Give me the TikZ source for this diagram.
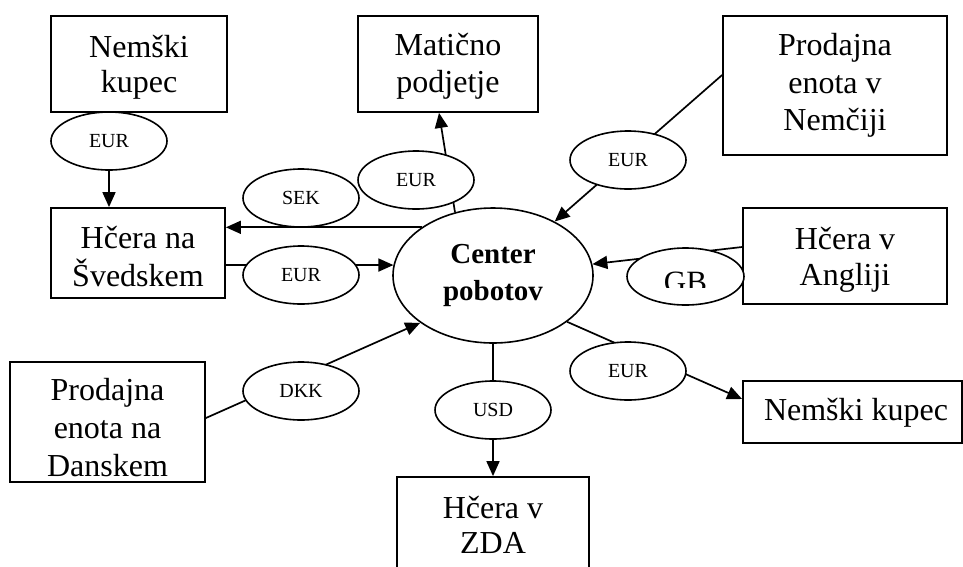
\documentclass[tikz,border=0pt]{standalone}
\usepackage{fontspec}
\setmainfont{Liberation Serif}
\usetikzlibrary{arrows.meta,calc,shapes.geometric}
\pgfdeclarelayer{paper}
\pgfdeclarelayer{background}
\pgfsetlayers{paper,background,main}
\begin{document}
\begin{tikzpicture}[x=1pt,y=-1pt,
  unitbox/.style={draw, line width=1.8pt, fill=white, inner sep=0pt},
  cur/.style={draw, ellipse, line width=1.6pt, fill=white, inner sep=0pt,
    minimum width=116, minimum height=58, font=\fontsize{20}{24}\selectfont},
  hub/.style={draw, ellipse, line width=1.6pt, fill=white, inner sep=0pt,
    minimum width=200, minimum height=135},
  txt/.style={anchor=base, inner sep=0pt, font=\fontsize{32}{36}\selectfont},
  hubtxt/.style={anchor=base, inner sep=0pt, font=\fontsize{29}{36}\selectfont\bfseries},
  flow/.style={line width=1.7pt},
  arr/.style={flow, -{Triangle[length=15pt,width=13pt]}}]
\clip (0,0) rectangle (963,566);
\begin{pgfonlayer}{paper}
  \fill[white] (0,0) rectangle (963,566);
\end{pgfonlayer}

% units
\node[unitbox, minimum width=176, minimum height=96]  (nk)   at (139,64) {};
\node[unitbox, minimum width=180, minimum height=96]  (mat)  at (448,64) {};
\node[unitbox, minimum width=224, minimum height=139] (pen)  at (835,85.5) {};
\node[unitbox, minimum width=174, minimum height=90]  (sved) at (138,253) {};
\node[unitbox, minimum width=204, minimum height=96]  (ang)  at (845,256) {};
\node[unitbox, minimum width=195, minimum height=120] (dan)  at (107.5,422) {};
\node[unitbox, minimum width=192, minimum height=98]  (zda)  at (493,526) {};
\node[unitbox, minimum width=219, minimum height=62]  (nkr)  at (852.5,412) {};

% netting centre
\node[hub] (cen) at (493,275.5) {};

% unit labels
\node[txt] at (139,57) {Nemški};
\node[txt] at (139,92) {kupec};
\node[txt] at (448,55) {Matično};
\node[txt] at (448,92) {podjetje};
\node[txt] at (835,55) {Prodajna};
\node[txt] at (835,93) {enota v};
\node[txt] at (835,130) {Nemčiji};
\node[txt] at (138,248) {Hčera na};
\node[txt] at (138,286) {Švedskem};
\node[txt] at (845,249) {Hčera v};
\node[txt] at (845,285) {Angliji};
\node[txt] at (107.5,400) {Prodajna};
\node[txt] at (107.5,438) {enota na};
\node[txt] at (107.5,476) {Danskem};
\node[txt] at (493,518) {Hčera v};
\node[txt] at (493,553) {ZDA};
\node[txt] at (856,420) {Nemški kupec};
\node[hubtxt] at (493,263) {Center};
\node[hubtxt] at (493,300) {pobotov};

% currency tags
\node[cur] (eA)  at (109,141) {EUR};
\node[cur] (sek) at (301,198) {SEK};
\node[cur] (eB)  at (301,275) {EUR};
\node[cur] (eM)  at (416,180) {EUR};
\node[cur] (eN)  at (628,160) {EUR};
\node[cur, minimum width=117, minimum height=57] (gb) at (685.5,276.5) {};
\node[cur] (eR)  at (628,371) {EUR};
\node[cur] (usd) at (493,410) {USD};
\node[cur] (dkk) at (301,391) {DKK};
\begin{scope}
  \clip (600,240) rectangle (760,287.5);
  \node[txt, font=\fontsize{31}{36}\selectfont] at (685.5,292.5) {GB};
\end{scope}

% payment flows
\begin{pgfonlayer}{background}
  \draw[arr] (eA.south) -- (eA.south |- sved.north);
  \draw[arr] (cen.146) -- (cen.146 -| sved.east);
  \draw[arr] (cen.174.5 -| sved.east) -- (cen.174.5);
  \draw[arr] (cen.121) -- ($(mat.south)+(-9,0)$);
  \draw[arr] ($(pen.west)+(0,-10.5)$) -- (cen);
  \draw[arr] ($(ang.west)+(0,-9)$) -- (cen);
  \draw[arr] (cen.-32) -- ($(nkr.west)+(0,-13)$);
  \draw[arr] (cen.south) -- (zda.north);
  \draw[arr] ($(dan.east)+(0,-4)$) -- (cen.213.4);
\end{pgfonlayer}
\end{tikzpicture}
\end{document}
